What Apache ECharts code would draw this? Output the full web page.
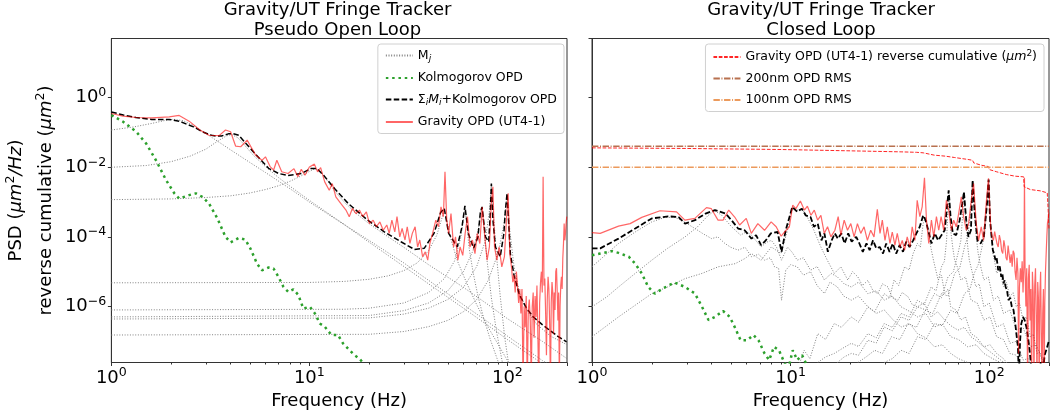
<!DOCTYPE html>
<html>
<head>
<meta charset="utf-8">
<script src="https://cdn.jsdelivr.net/npm/echarts@6/dist/echarts.min.js"></script>
<style>
  html, body { margin: 0; padding: 0; background: #fff; }
  #chart { width: 1050px; height: 417px; }
</style>
</head>
<body>
<div id="chart"></div>
<script>
// All series are [frequency (Hz), log10 of value] pairs.
// PSD in µm²/Hz, cumulative in µm².

// ---------- Pseudo open loop ----------
const mode1OL = [[1,-0.93],[1.3,-0.84],[1.6,-0.74],[1.85,-0.66],[2.05,-0.62],[2.3,-0.66],[2.6,-0.8],[3,-1.03],[3.5,-1.28],[4,-1.5],[5,-1.86],[6,-2.15],[8,-2.62],[10,-3.0],[15,-3.65],[20,-4.15],[30,-4.85],[40,-5.35],[60,-6.05],[80,-6.55],[100,-6.95],[130,-7.4],[160,-7.75]];
const mode2OL = [[1,-2.0],[1.5,-1.95],[2,-1.84],[2.5,-1.68],[3,-1.48],[3.4,-1.27],[3.8,-1.1],[4.05,-1.06],[4.35,-1.15],[4.7,-1.36],[5.2,-1.65],[6,-1.98],[7,-2.3],[8,-2.55],[10,-2.95],[13,-3.4],[16,-3.75],[20,-4.1],[30,-4.75],[40,-5.25],[60,-5.95],[80,-6.45],[100,-6.85],[150,-7.55],[200,-8.0]];
const mode3OL = [[1,-2.93],[2,-2.91],[3,-2.87],[4,-2.82],[5,-2.74],[6,-2.64],[7,-2.53],[8,-2.4],[9,-2.26],[10,-2.12],[10.7,-2.04],[11.4,-2.12],[12.3,-2.38],[13.5,-2.7],[15,-3.0],[17,-3.3],[20,-3.62],[25,-4.0],[30,-4.3],[40,-4.8],[60,-5.45],[80,-5.95],[100,-6.35],[150,-7.0],[200,-7.5]];
const mode4OL = [[1,-5.32],[10,-5.31],[15,-5.28],[20,-5.22],[25,-5.12],[30,-4.97],[35,-4.75],[40,-4.4],[44,-3.95],[46.5,-3.5],[48,-3.22],[49.5,-3.55],[52,-4.1],[56,-4.7],[62,-5.3],[70,-5.95],[80,-6.6],[90,-7.1],[100,-7.55],[115,-8.1]];
const mode5OL = [[1,-6.1],[15,-6.08],[20,-6.05],[30,-5.9],[40,-5.6],[48,-5.2],[54,-4.7],[58,-4.05],[60.3,-3.4],[61,-3.12],[62,-3.5],[64,-4.3],[67,-5.0],[71,-5.7],[76,-6.35],[82,-6.95],[90,-7.6],[100,-8.2]];
const mode6OL = [[1,-6.3],[20,-6.26],[30,-6.12],[40,-5.9],[50,-5.55],[60,-5.0],[67,-4.4],[71.5,-3.75],[74,-3.15],[76,-3.7],[79,-4.7],[83,-5.75],[88,-6.7],[95,-7.7],[102,-8.3]];
const mode7OL = [[1,-6.36],[20,-6.33],[30,-6.22],[40,-6.05],[50,-5.8],[60,-5.45],[70,-4.85],[77,-4.15],[81,-3.3],[83,-2.48],[85,-3.35],[88,-4.5],[92,-5.7],[97,-6.9],[103,-7.9]];
const mode8OL = [[1,-6.82],[20,-6.8],[30,-6.72],[40,-6.58],[50,-6.4],[60,-6.15],[70,-5.8],[80,-5.25],[90,-4.45],[96,-3.65],[99.6,-2.77],[103,-3.85],[108,-4.85],[115,-5.6],[125,-6.1],[140,-6.5],[165,-6.85],[200,-7.1]];

const kolmoOL = [[1,-0.5],[1.145,-0.69],[1.335,-0.98],[1.5,-1.32],[1.68,-1.8],[1.89,-2.37],[2.08,-2.75],[2.2,-2.9],[2.47,-2.8],[2.67,-2.75],[2.88,-2.85],[3.11,-3.04],[3.43,-3.47],[3.77,-4.0],[4.0,-4.16],[4.4,-4.03],[4.75,-4.08],[5.03,-4.33],[5.44,-4.77],[5.76,-4.96],[6.22,-4.88],[6.59,-4.91],[6.98,-5.15],[7.4,-5.44],[7.83,-5.58],[8.3,-5.51],[8.8,-5.67],[9.32,-6.06],[10.06,-6.01],[10.66,-6.2],[11.29,-6.49],[11.96,-6.58],[12.92,-6.82],[13.95,-6.82],[14.78,-7.06],[15.97,-7.26],[16.92,-7.4],[17.92,-7.5],[18.62,-7.62],[19.7,-7.83]];

const modelOL = [[1.0,-0.41],[1.15,-0.5],[1.33,-0.57],[1.6,-0.627],[1.96,-0.627],[2.2,-0.675],[2.6,-0.84],[2.88,-0.98],[3.2,-1.08],[3.4,-1.106],[3.6,-1.1],[3.9,-1.04],[4.1,-1.03],[4.4,-1.08],[4.98,-1.43],[5.6,-1.75],[6.22,-2.03],[7.0,-2.18],[7.8,-2.236],[9.1,-2.18],[10.2,-2.035],[10.9,-2.035],[11.8,-2.23],[13.4,-2.61],[15.7,-3.04],[19.7,-3.52],[23.9,-3.855],[29,-4.14],[33.9,-4.36],[38,-4.33],[42.6,-3.9],[46,-3.3],[48,-3.18],[50.5,-3.9],[55.8,-4.29],[59,-3.71],[61,-3.11],[63.5,-3.9],[67.5,-4.33],[71,-4.0],[73,-3.3],[74.5,-3.14],[77.5,-4.0],[80.5,-4.14],[82,-3.3],[83,-2.47],[84.5,-3.5],[87,-4.29],[92,-4.57],[96,-3.9],[97.5,-3.3],[99.6,-2.75],[101.5,-3.6],[103.5,-4.48],[108,-5.1],[115,-5.67],[125,-6.05],[135,-6.3],[150,-6.52],[163,-6.68],[180,-6.86],[199,-7.02]];

const gravityOL = [[1.0,-0.455],[1.145,-0.53],[1.335,-0.57],[1.6,-0.58],[1.96,-0.55],[2.2,-0.51],[2.47,-0.675],[2.8,-0.93],[3.11,-1.08],[3.5,-1.09],[3.77,-0.93],[4.0,-0.98],[4.24,-1.39],[4.5,-1.41],[4.85,-1.22],[5.35,-1.65],[5.76,-1.8],[6.0,-1.7],[6.35,-1.99],[6.6,-2.08],[6.85,-1.8],[7.25,-2.13],[7.8,-2.18],[8.36,-2.04],[8.75,-2.27],[9.1,-2.06],[9.5,-2.23],[10.0,-1.99],[10.6,-1.91],[11.0,-2.13],[11.4,-2.01],[11.95,-2.42],[12.6,-2.66],[13.05,-2.47],[13.6,-2.85],[14.4,-3.04],[15.3,-3.23],[15.9,-3.42],[16.5,-3.18],[17.2,-3.33],[17.9,-3.23],[18.6,-3.42],[19.4,-3.28],[20.1,-3.62],[21.0,-3.52],[21.8,-3.71],[22.7,-3.57],[23.6,-3.81],[24.6,-3.66],[25.3,-3.9],[26.1,-3.52],[27.0,-3.855],[27.7,-3.42],[28.6,-4.0],[29.4,-3.76],[30.4,-4.09],[31.2,-3.71],[32.2,-4.19],[33.1,-3.9],[34.2,-3.71],[35.2,-4.29],[36.1,-4.09],[37.3,-4.57],[38.5,-4.43],[39.6,-4.67],[40.6,-4.19],[41.9,-3.9],[43.5,-3.52],[44.9,-3.71],[46.2,-3.14],[47.5,-3.42],[48.4,-2.13],[49.4,-3.52],[50.5,-3.9],[51.9,-3.33],[53.5,-4.29],[54.7,-4.0],[56.2,-4.67],[57.7,-4.29],[59.5,-4.53],[61.2,-3.9],[62.9,-3.42],[64.7,-4.29],[66.6,-4.09],[68.6,-4.48],[70.5,-3.9],[72.6,-4.19],[74.6,-3.14],[76.6,-3.9],[79.0,-4.67],[81.1,-4.29],[82.9,-3.04],[84.5,-2.56],[86.1,-4.29],[88.5,-4.67],[90.8,-4.29],[93.7,-4.86],[96.6,-4.57],[99.1,-3.42],[100.9,-2.75],[102.8,-4.48],[104,-4.7],
  [105,-4.9],[106.5,-5.3],[108,-5.1],[109.5,-5.6],[111,-5.0],[112.5,-5.4],[114,-5.9],[115.5,-5.5],[117,-6.2],[118.5,-5.5],[120,-8.3],[121.5,-6.0],[123,-6.6],[124.5,-5.7],[126,-8.3],[127.5,-6.1],[129,-5.8],[130.5,-6.4],[132,-8.2],[133.5,-6.0],[135,-5.6],[136.5,-6.9],[138,-5.7],[139.5,-6.3],[141,-5.4],[142.5,-6.8],[144,-8.3],[145.5,-5.9],[147,-5.3],[148.5,-5.0],[150,-5.6],[151.5,-2.27],[153,-5.4],[154.5,-5.2],[156,-6.2],[157.5,-7.4],[159,-5.8],[160.5,-5.15],[162,-5.5],[163.5,-6.5],[165,-8.3],[166.5,-5.9],[168,-5.3],[169.5,-5.6],[171,-6.8],[172.5,-5.6],[174,-6.1],[175.5,-5.0],[177,-4.9],[178.5,-5.6],[180,-6.4],[181.5,-5.6],[183,-8.3],[184.5,-6.0],[186,-5.4],[187.5,-5.15],[189,-5.5],[190.5,-4.6],[192,-4.2],[193.5,-3.62],[195,-4.1],[196.5,-3.9],[198,-3.6],[199.5,-3.42]];

// ---------- Closed loop ----------
const mode1CL = [[1,-4.86],[1.19,-4.48],[1.36,-4.19],[1.65,-3.86],[2.0,-3.57],[2.33,-3.44],[2.61,-3.44],[2.82,-3.52],[3.3,-3.76],[3.6,-3.9],[4.0,-4.05],[4.3,-4.0],[4.67,-4.19],[5.0,-4.3],[5.44,-4.38],[5.9,-4.3],[6.35,-4.57],[6.9,-4.5],[7.4,-4.67],[7.9,-4.6],[8.3,-4.86],[8.7,-4.9],[9.0,-5.82],[9.45,-4.96],[10.0,-4.8],[10.8,-4.86],[11.6,-5.1],[12.6,-5.0],[13.6,-5.4],[14.8,-5.63],[15.8,-5.3],[17.2,-5.44],[18.5,-5.7],[20.2,-5.82],[22,-5.7],[24.5,-6.01],[27,-6.2],[29.6,-6.1],[33,-6.4],[36,-6.59],[40,-6.5],[43.5,-6.78],[48,-6.9],[53,-7.16],[58,-7.1],[64,-7.35],[70,-7.5],[78,-7.61],[86,-7.8],[94,-7.93]];
const mode2CL = [[1,-6.01],[1.19,-5.72],[1.36,-5.44],[1.65,-5.05],[2.0,-4.67],[2.4,-4.33],[2.94,-4.0],[3.4,-3.71],[3.85,-3.38],[4.16,-3.25],[4.5,-3.38],[5.04,-3.71],[5.6,-3.95],[6.0,-3.85],[6.35,-3.95],[7.1,-4.29],[7.6,-4.15],[8.0,-4.1],[8.5,-4.3],[9.0,-4.67],[9.65,-4.29],[10.2,-4.45],[10.8,-4.67],[11.6,-4.6],[12.6,-4.96],[13.6,-4.85],[14.8,-5.24],[16,-5.05],[17.2,-5.15],[18.6,-5.35],[20.2,-5.44],[22,-5.3],[24.5,-5.63],[27,-5.55],[29.6,-5.82],[32.5,-5.7],[36,-6.01],[40,-6.15],[43.5,-6.3],[48,-6.2],[53,-6.59],[58,-6.5],[64,-6.87],[70,-6.95],[78,-7.16],[86,-7.1],[94,-7.35],[104,-7.5],[114,-7.61],[126,-7.75],[138,-7.93]];
const mode3CL = [[1,-6.87],[1.36,-6.3],[2.0,-5.63],[2.4,-5.44],[2.94,-5.2],[3.58,-5.05],[4.32,-4.86],[5.26,-4.77],[5.9,-4.62],[6.35,-4.48],[7.1,-4.67],[8.0,-4.29],[8.95,-4.48],[9.65,-3.81],[10.2,-3.14],[10.8,-3.23],[11.4,-3.19],[12.1,-3.42],[13.1,-3.81],[14.2,-4.29],[15.3,-4.67],[16.6,-5.05],[17.9,-4.86],[19.4,-5.24],[20.5,-5.0],[21.8,-5.15],[23,-5.4],[24.5,-5.25],[26,-5.55],[27.5,-5.63],[29,-5.35],[30.9,-5.44],[32.5,-5.75],[34.7,-5.82],[36.5,-5.6],[39,-5.72],[41,-5.95],[43.5,-6.01],[47,-5.9],[51,-6.3],[55,-6.15],[59.7,-6.39],[64,-6.55],[69.6,-6.68],[75,-6.6],[81,-6.87],[87,-7.0],[94,-7.16],[101,-7.3],[109,-7.45],[118,-7.6],[127,-7.73]];
const mode4CL = [[11,-7.7],[11.7,-7.26],[12.5,-7.5],[13.7,-6.78],[15,-6.95],[16.6,-6.49],[18,-6.6],[20.2,-6.3],[22,-6.45],[24.5,-6.01],[26.5,-6.15],[29.6,-5.63],[31.5,-5.75],[33.2,-5.24],[35,-5.4],[37.5,-4.86],[39.5,-4.95],[41.4,-4.48],[43.5,-4.19],[45,-4.3],[46.5,-3.62],[47.8,-3.42],[49.3,-3.81],[50.8,-4.3],[52.4,-4.67],[55.3,-5.24],[57.5,-5.1],[59.7,-5.63],[62,-5.5],[64,-6.01],[68,-6.1],[72,-6.39],[76,-6.3],[81,-6.78],[87,-6.9],[94,-7.16],[101,-7.1],[109,-7.35],[118,-7.5],[127,-7.73],[138,-7.9]];
const mode5CL = [[13.7,-7.61],[15,-7.45],[16.6,-7.35],[18.3,-7.2],[20.2,-7.06],[22,-7.15],[24.5,-6.78],[27,-6.9],[29.6,-6.49],[32.5,-6.6],[36,-6.2],[39.5,-6.3],[43.5,-5.82],[47,-5.95],[51,-5.44],[54,-5.55],[57.5,-4.86],[59.5,-4.7],[61,-4.1],[62.5,-2.71],[64,-3.81],[65.5,-4.3],[67,-4.67],[69.5,-4.9],[72,-5.24],[76,-5.15],[81,-5.82],[87,-5.9],[94,-6.39],[101,-6.3],[109,-6.87],[118,-6.95],[127,-7.35],[137,-7.4],[148,-7.73],[160,-7.9]];
const mode6CL = [[17.2,-7.61],[18.6,-7.45],[20.2,-7.35],[22,-7.4],[24.5,-6.97],[27,-7.05],[29.6,-6.59],[32.5,-6.7],[36,-6.3],[39.5,-6.4],[43.5,-6.01],[48,-6.1],[53,-5.63],[57.5,-5.75],[62,-5.15],[66,-5.0],[69.6,-4.48],[72,-4.1],[73.2,-3.52],[74.6,-2.75],[76.6,-3.71],[78,-4.3],[79.4,-4.67],[82,-5.0],[85.7,-5.44],[89,-5.35],[94,-6.01],[100,-5.9],[109,-6.59],[118,-6.5],[127,-7.06],[137,-7.0],[148,-7.54],[157,-7.5],[166,-7.93]];
const mode7CL = [[21.8,-7.61],[24,-7.45],[26.5,-7.26],[29,-7.35],[32.2,-6.87],[35.5,-6.95],[39,-6.49],[43,-6.6],[47.5,-6.11],[52,-6.2],[57.5,-5.63],[62,-5.7],[67,-5.05],[71,-4.9],[75.1,-4.29],[78,-4.0],[80.4,-3.33],[82.5,-2.42],[84.6,-3.52],[86,-4.0],[88,-4.48],[91,-4.9],[94,-5.24],[99,-5.15],[105,-5.82],[111,-5.7],[118,-6.2],[127,-6.1],[137,-6.68],[148,-6.6],[161,-7.16],[172,-7.1],[185,-7.5],[198,-7.73]];
const mode8CL = [[29.6,-7.61],[32.5,-7.5],[36,-7.26],[39.5,-7.35],[43.5,-6.87],[48,-6.95],[53,-6.49],[58,-6.55],[64,-6.11],[69,-6.2],[75.1,-5.63],[80,-5.5],[84,-5.05],[88,-4.8],[92,-4.29],[95,-3.9],[96.8,-3.33],[99.3,-2.37],[101,-3.52],[102.5,-4.0],[104.3,-4.48],[106.5,-4.7],[109,-5.05],[113,-4.95],[118,-5.44],[122,-5.3],[127,-5.72],[132,-5.6],[137,-6.01],[142,-5.9],[148,-6.39],[154,-6.3],[161,-6.87],[167,-6.8],[174,-7.35],[180,-7.3],[187,-7.73],[195,-7.8]];

const kolmoCL = [[1,-4.53],[1.1,-4.48],[1.26,-4.41],[1.36,-4.46],[1.53,-4.57],[1.65,-4.77],[1.78,-5.05],[1.92,-5.44],[2.07,-5.63],[2.28,-5.48],[2.6,-5.31],[2.94,-5.44],[3.3,-5.63],[3.58,-6.01],[3.86,-6.39],[4.16,-6.3],[4.57,-6.13],[4.94,-6.3],[5.23,-6.59],[5.6,-6.97],[6.04,-6.97],[6.5,-6.82],[6.89,-6.97],[7.39,-7.35],[7.8,-7.54],[8.25,-7.16],[8.74,-7.26],[9.3,-7.61],[9.73,-7.8],[10.25,-7.26],[10.8,-7.54],[11.43,-7.4],[12.1,-7.7],[12.8,-7.9]];

const modelCL = [[1.0,-4.33],[1.1,-4.33],[1.36,-4.05],[1.65,-3.76],[2.0,-3.47],[2.42,-3.41],[2.73,-3.43],[2.94,-3.62],[3.3,-3.52],[3.73,-3.33],[4.16,-3.23],[4.7,-3.33],[5.04,-3.52],[5.44,-3.76],[5.87,-3.81],[6.35,-4.05],[6.7,-3.95],[7.1,-4.24],[7.5,-4.1],[7.95,-3.9],[8.6,-3.86],[9.0,-4.43],[9.45,-3.81],[10.2,-3.14],[10.8,-3.28],[11.4,-3.19],[11.9,-3.38],[12.6,-3.43],[13.1,-3.71],[13.7,-3.62],[14.3,-4.1],[14.8,-3.9],[15.4,-4.43],[16.1,-4.1],[16.7,-3.9],[17.3,-4.05],[18.0,-3.9],[18.7,-4.19],[19.5,-3.9],[20.3,-4.14],[21.4,-4.0],[22.2,-4.19],[23.1,-4.43],[24.1,-4.19],[25.0,-4.38],[26.0,-4.1],[27.0,-4.33],[28.1,-4.29],[29.2,-4.48],[30.3,-4.19],[31.5,-4.43],[32.7,-4.19],[34.0,-4.48],[35.4,-4.24],[36.8,-4.43],[38.2,-4.14],[39.7,-4.29],[41.4,-4.1],[43.0,-3.9],[44.7,-3.71],[46.5,-3.38],[47.8,-3.52],[49.3,-3.81],[51.2,-4.19],[53.2,-3.9],[55.3,-4.1],[57.5,-3.95],[59.7,-3.81],[61.3,-3.14],[62.5,-2.66],[63.9,-3.43],[65.6,-3.9],[68.2,-3.95],[71.0,-3.52],[73.2,-3.04],[74.6,-2.71],[76.6,-3.52],[78.6,-4.0],[80.9,-3.81],[82.5,-2.37],[84.6,-3.33],[87.2,-4.1],[90.6,-4.19],[93.9,-4.0],[97.5,-3.04],[99.3,-2.35],[101,-3.52],[104.3,-4.38],[106,-4.5],[107.5,-4.67],[109,-4.6],[111,-4.96],[113,-4.85],[115,-5.15],[116.5,-5.05],[118,-5.34],[119.5,-5.25],[121,-5.44],[123,-5.55],[125,-5.82],[127.5,-5.75],[130,-6.01],[132.5,-6.1],[134.7,-6.39],[137,-6.78],[139.5,-7.16],[141,-8.0],[143,-7.0],[145,-6.5],[148,-6.3],[151,-6.4],[154,-6.6],[157,-6.9],[160,-7.3],[163,-7.8],[166,-8.3],[172,-8.3],[178,-7.9],[182,-7.6],[186,-8.0],[190,-7.4],[195,-7.2],[199.5,-7.0]];

const gravityCL = [[1.0,-3.88],[1.1,-3.9],[1.36,-3.69],[1.556,-3.62],[1.78,-3.44],[2.2,-3.25],[2.666,-3.28],[2.935,-3.52],[3.295,-3.47],[3.77,-3.16],[3.99,-3.19],[4.31,-3.52],[4.57,-3.52],[4.88,-3.23],[5.23,-3.43],[5.54,-3.66],[5.98,-3.47],[6.34,-3.9],[6.84,-3.62],[7.39,-3.81],[7.98,-3.57],[8.46,-3.71],[8.96,-3.98],[9.49,-3.81],[9.86,-3.71],[10.25,-3.09],[10.63,-3.19],[11.2,-2.97],[11.73,-3.23],[12.15,-3.12],[12.66,-3.38],[13.16,-3.23],[13.68,-3.52],[14.21,-3.38],[14.77,-3.9],[15.35,-3.71],[15.95,-4.0],[16.71,-3.81],[17.36,-3.42],[17.91,-3.95],[18.61,-3.52],[19.34,-3.81],[20.1,-3.62],[20.88,-4.0],[21.7,-3.62],[22.55,-3.9],[23.44,-3.71],[24.36,-4.1],[25.31,-3.81],[26.3,-4.0],[27.33,-3.21],[28.19,-3.9],[28.96,-3.52],[29.87,-4.1],[30.69,-3.71],[31.64,-4.19],[32.5,-3.86],[33.52,-4.24],[34.44,-3.9],[35.52,-4.29],[36.49,-4.1],[37.49,-4.38],[38.65,-4.0],[39.86,-4.29],[40.95,-3.71],[42.23,-4.1],[43.39,-2.95],[44.75,-3.42],[45.96,-3.14],[47.21,-2.3],[48.32,-3.52],[49.63,-4.19],[51.18,-3.52],[52.58,-4.0],[54.23,-3.42],[55.71,-3.81],[57.23,-3.42],[59.01,-3.81],[60.86,-2.95],[62.52,-3.23],[64.47,-3.81],[66.22,-3.52],[68.3,-3.71],[70.17,-3.33],[72.36,-2.85],[74.33,-3.42],[76.66,-3.81],[78.75,-3.62],[81.2,-2.95],[83.43,-2.47],[86.04,-3.62],[88.39,-4.1],[91.16,-3.71],[93.63,-4.1],[96.54,-3.04],[99.17,-2.32],[101.9,-3.81],[103.5,-4.0],[105,-4.1],[106.5,-3.85],[108,-3.9],[109.5,-4.2],[111,-4.29],[112.5,-3.95],[114,-4.1],[115.5,-4.4],[117,-4.48],[118.5,-4.1],[120,-4.29],[121.5,-4.6],[123,-4.67],[124.5,-4.25],[126,-4.29],[127.5,-4.75],[129,-4.5],[130.5,-4.86],[132,-4.4],[133.5,-4.48],[135,-5.0],[136.5,-5.24],[138,-4.6],[139.5,-5.05],[140.5,-7.35],[142,-5.44],[143.5,-4.9],[145,-5.3],[146.5,-4.7],[148,-5.6],[149.5,-4.8],[150.5,-2.3],[151.5,-4.9],[153,-6.0],[154.5,-4.9],[156,-8.2],[157.5,-5.2],[159,-4.8],[160.5,-6.4],[162,-5.5],[163.5,-8.2],[165,-5.0],[166.5,-5.6],[168,-8.2],[169.5,-5.4],[171,-4.9],[172.5,-6.2],[174,-8.2],[175.5,-5.3],[177,-5.8],[178.5,-8.2],[180,-5.6],[181.5,-5.0],[183,-6.8],[184.5,-8.2],[186,-6.2],[187.5,-5.5],[189,-8.2],[190.5,-5.9],[192,-5.0],[193.5,-4.5],[195,-4.0],[196.5,-3.6],[198,-3.5],[199.5,-3.3]];

// reverse cumulative of the closed-loop PSD (µm²)
const cumulativeCL = [[1,-1.442],[3,-1.46],[9,-1.49],[20,-1.528],[36,-1.557],[43,-1.57],[46.5,-1.585],[47.5,-1.63],[53,-1.653],[60,-1.68],[67,-1.72],[78,-1.775],[82.5,-1.8],[83.5,-1.873],[91,-1.94],[99,-1.98],[100,-2.065],[109,-2.13],[122,-2.21],[135,-2.256],[149,-2.275],[150,-2.56],[161,-2.64],[181,-2.678],[196,-2.735],[198,-3.2],[200,-3.8]];

// OPD RMS levels: (0.2 µm)² and (0.1 µm)²
const rms200 = 0.04;
const rms100 = 0.01;

const freqRange = [1, 200];
const yRangeLog = [-7.61, 1.70];

const toPts = arr => arr.map(([f, lv]) => [f, Math.pow(10, lv)]);
const flatPts = v => freqRange.map(f => [f, v]);

const FONT = 'DejaVu Sans';
const BIG = 18;

const powLabel = (value) => {
  const lg = Math.log10(value);
  const e = Math.round(lg);
  if (Math.abs(lg - e) > 1e-6) return '';
  return '{b|10}{s|' + (e < 0 ? '\u2212' : '') + Math.abs(e) + '}';
};
const powRich = {
  b: { fontSize: BIG, fontFamily: FONT, color: '#000' },
  s: { fontSize: 12.6, fontFamily: FONT, color: '#000', padding: [0, 0, 10, 0] }
};

const frameColor = '#333';
const GRID_TOP = 38.5, GRID_H = 324;

function xAxisCfg(idx) {
  return {
    type: 'log', logBase: 10, gridIndex: idx,
    min: freqRange[0], max: freqRange[1],
    axisLine: { show: true, lineStyle: { color: frameColor, width: 1 } },
    axisTick: { show: true, length: 3.5, lineStyle: { color: frameColor } },
    minorTick: { show: true, splitNumber: 9, length: 2, lineStyle: { color: frameColor } },
    axisLabel: { formatter: powLabel, rich: powRich, margin: 4, showMaxLabel: false },
    splitLine: { show: false }, minorSplitLine: { show: false },
    name: 'Frequency (Hz)', nameLocation: 'middle', nameGap: 27,
    nameTextStyle: { fontSize: BIG, fontFamily: FONT, color: '#000' }
  };
}
function yAxisCfg(idx, labels) {
  const cfg = {
    type: 'log', logBase: 100, gridIndex: idx,
    min: Math.pow(10, yRangeLog[0]), max: Math.pow(10, yRangeLog[1]),
    axisLine: { show: true, lineStyle: { color: frameColor, width: 1 } },
    axisTick: { show: true, length: 3.5, lineStyle: { color: frameColor } },
    axisLabel: { show: labels, formatter: powLabel, rich: powRich, margin: 5, showMinLabel: false, showMaxLabel: false },
    splitLine: { show: false }
  };
  if (labels) {
    cfg.name = 'PSD ({i|\u03bcm}{s|2}{i|/Hz})\nreverse cumulative ({i|\u03bcm}{s|2})';
    cfg.nameLocation = 'middle';
    cfg.nameRotate = 90;
    cfg.nameGap = 46;
    cfg.nameTextStyle = {
      fontSize: BIG, fontFamily: FONT, color: '#000', lineHeight: 30,
      rich: {
        i: { fontSize: BIG, fontFamily: FONT, fontStyle: 'italic', color: '#000', lineHeight: 30 },
        s: { fontSize: 12.6, fontFamily: FONT, color: '#000', padding: [0, 0, 10, 0], lineHeight: 30 }
      }
    };
  }
  return cfg;
}

const grayStyle = { color: '#808080', width: 1, type: [1, 1.65] };
const greenStyle = { color: '#2ca02c', width: 2.5, type: [2.5, 3.8], cap: 'butt' };
const blackStyle = { color: '#000', width: 1.5, type: [5.5, 2.4] };
const redStyle = { color: 'rgba(255,0,0,0.6)', width: 1.2 };

function line(name, data, style, xi) {
  return {
    type: 'line', name, data, xAxisIndex: xi, yAxisIndex: xi,
    showSymbol: false, symbol: 'none', smooth: false, silent: true,
    itemStyle: { color: style.color }, lineStyle: style, clip: true
  };
}

const series = [];
// left panel
[mode1OL, mode2OL, mode3OL, mode4OL, mode5OL, mode6OL, mode7OL, mode8OL].forEach(m =>
  series.push(line('Mj', toPts(m), grayStyle, 0)));
series.push(line('Kolmogorov OPD', toPts(kolmoOL), greenStyle, 0));
series.push(line('Sum', toPts(modelOL), blackStyle, 0));
series.push(line('Gravity OPD (UT4-1)', toPts(gravityOL), redStyle, 0));
// right panel
[mode1CL, mode2CL, mode3CL, mode4CL, mode5CL, mode6CL, mode7CL, mode8CL].forEach(m =>
  series.push(line('Mj CL', toPts(m), grayStyle, 1)));
series.push(line('Kolmogorov CL', toPts(kolmoCL), greenStyle, 1));
series.push(line('Sum CL', toPts(modelCL), { color: '#000', width: 1.8, type: [5.5, 2.4] }, 1));
series.push(line('Gravity CL', toPts(gravityCL), redStyle, 1));
series.push(line('Cumulative', toPts(cumulativeCL), { color: 'rgba(255,0,0,0.85)', width: 1, type: [3.7, 1.6] }, 1));
series.push(line('200nm OPD RMS', flatPts(rms200), { color: '#b8714f', width: 1.5, type: [6.4, 1.6, 1, 1.6] }, 1));
series.push(line('100nm OPD RMS', flatPts(rms100), { color: '#ec9a5c', width: 1.5, type: [6.4, 1.6, 1, 1.6] }, 1));

const legendText = {
  'Mj': 'M{sub|j}',
  'Sum': '\u03a3{sub|i}{it|M}{sub|i}+Kolmogorov OPD',
  'Cumulative': 'Gravity OPD (UT4-1) reverse cumulative ({it|\u03bcm}{sup|2})'
};
const legendTextStyle = {
  fontSize: 12.5, fontFamily: FONT, color: '#000',
  rich: {
    sub: { fontSize: 9, fontFamily: FONT, fontStyle: 'italic', color: '#000', padding: [6, 0, 0, 0] },
    it: { fontSize: 12.5, fontFamily: FONT, fontStyle: 'italic', color: '#000' },
    sup: { fontSize: 9, fontFamily: FONT, color: '#000', padding: [0, 0, 7, 0] }
  }
};
const legendBase = {
  orient: 'vertical', top: 44, itemWidth: 27, itemHeight: 12, itemGap: 8.5,
  padding: [5, 7, 5, 7], borderColor: '#d0d0d0', borderWidth: 1, borderRadius: 3,
  backgroundColor: 'rgba(255,255,255,0.8)', selectedMode: false,
  itemStyle: { opacity: 0, borderWidth: 0 },
  formatter: name => legendText[name] || name,
  textStyle: legendTextStyle
};

const titleStyle = { fontSize: BIG, fontWeight: 'normal', fontFamily: FONT, color: '#000', lineHeight: 20 };
const option = {
  animation: false,
  backgroundColor: '#fff',
  title: [
    { text: 'Gravity/UT Fringe Tracker\nPseudo Open Loop', left: 337.5, top: 0, padding: 0, textAlign: 'center', textStyle: titleStyle },
    { text: 'Gravity/UT Fringe Tracker\nClosed Loop', left: 821, top: 0, padding: 0, textAlign: 'center', textStyle: titleStyle }
  ],
  grid: [
    { left: 108, top: GRID_TOP, width: 459, height: GRID_H, show: true, borderColor: frameColor, borderWidth: 1, backgroundColor: 'transparent' },
    { left: 592, top: GRID_TOP, width: 457, height: GRID_H, show: true, borderColor: frameColor, borderWidth: 1, backgroundColor: 'transparent' }
  ],
  xAxis: [xAxisCfg(0), xAxisCfg(1)],
  yAxis: [yAxisCfg(0, true), yAxisCfg(1, false)],
  legend: [
    Object.assign({}, legendBase, { right: 486, data: ['Mj', 'Kolmogorov OPD', 'Sum', 'Gravity OPD (UT4-1)'] }),
    Object.assign({}, legendBase, { right: 6, data: ['Cumulative', '200nm OPD RMS', '100nm OPD RMS'] })
  ],
  series
};

const chart = echarts.init(document.getElementById('chart'), null, { renderer: 'canvas' });
chart.setOption(option);
</script>
</body>
</html>
